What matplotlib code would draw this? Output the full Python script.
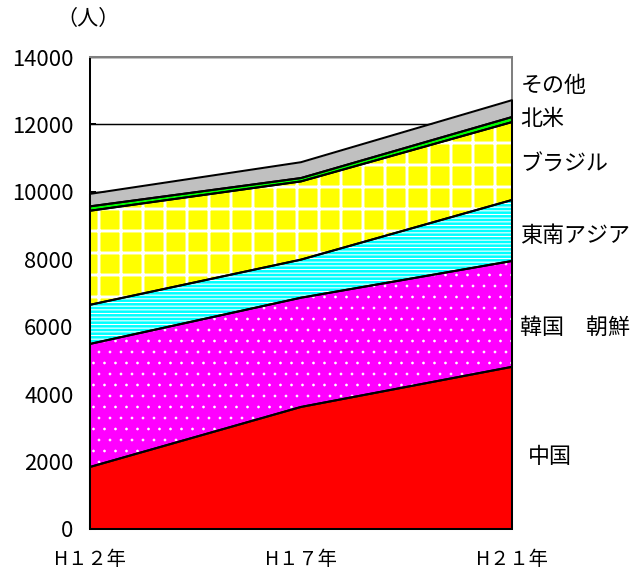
import numpy as np
import matplotlib.pyplot as plt

plt.rcParams['font.family'] = ['Noto Sans CJK JP', 'DejaVu Sans']

# 年次と地域別の人数（積み上げ）
years = ['H１２年', 'H１７年', 'H２１年']
china = [1840, 3620, 4810]
korea = [3650, 3240, 3140]
se_asia = [1160, 1130, 1810]
brazil = [2790, 2320, 2310]
n_america = [130, 100, 150]
others = [370, 470, 500]

names = ['中国', '韓国　朝鮮', '東南アジア', 'ブラジル', '北米', 'その他']
series = [china, korea, se_asia, brazil, n_america, others]
colors = ['#FF0000', '#FF00FF', '#00FFFF', '#FFFF00', '#00FF00', '#C0C0C0']
hatches = [None, '..', '------', '+', None, None]
hatch_lw = [1.0, 0.25, 0.6, 1.6, 1.0, 1.0]
# 右側の凡例ラベルの高さ（データ座標）
label_y = [2150, 5950, 8700, 10800, 12150, 13150]

DPI = 132
fig = plt.figure(figsize=(635 / DPI, 569 / DPI), dpi=DPI)
ax = fig.add_axes([0.1417, 0.0703, 0.6646, 0.8295])

x = np.arange(len(years))
bottom = np.zeros(len(years))
for vals, c, h, hl in zip(series, colors, hatches, hatch_lw):
    top = bottom + np.asarray(vals, dtype=float)
    with plt.rc_context({'hatch.linewidth': hl}):
        ax.fill_between(x, bottom, top, facecolor=c, edgecolor='white',
                        hatch=h, linewidth=0, zorder=2)
    ax.fill_between(x, bottom, top, facecolor='none', edgecolor='black',
                    linewidth=1.1, zorder=3, clip_on=False)
    bottom = top

ax.set_xlim(0, len(years) - 1)
ax.set_ylim(0, 14000)
ax.set_yticks(np.arange(0, 14001, 2000))
ax.set_xticks(x)
ax.set_xticklabels(years, fontsize=10.5)
ax.tick_params(axis='y', direction='in', length=3, width=1.1, labelsize=12, pad=9)
ax.tick_params(axis='x', direction='in', length=3, width=1.1, pad=11)

ax.yaxis.grid(True, color='black', linewidth=0.8)
ax.set_axisbelow(True)
for side in ['left', 'bottom']:
    ax.spines[side].set_color('black')
    ax.spines[side].set_linewidth(1.1)
for side in ['top', 'right']:
    ax.spines[side].set_color('#808080')
    ax.spines[side].set_linewidth(1.1)

for name, ly in zip(names, label_y):
    dx = 0.038 if name == '中国' else 0.02
    ax.text(1 + dx, ly, name, transform=ax.get_yaxis_transform(),
            fontsize=12, va='center', ha='left')

fig.text(0.139, 0.966, '（人）', fontsize=11.5, ha='center', va='center')

fig.savefig('out.png', dpi=DPI)
